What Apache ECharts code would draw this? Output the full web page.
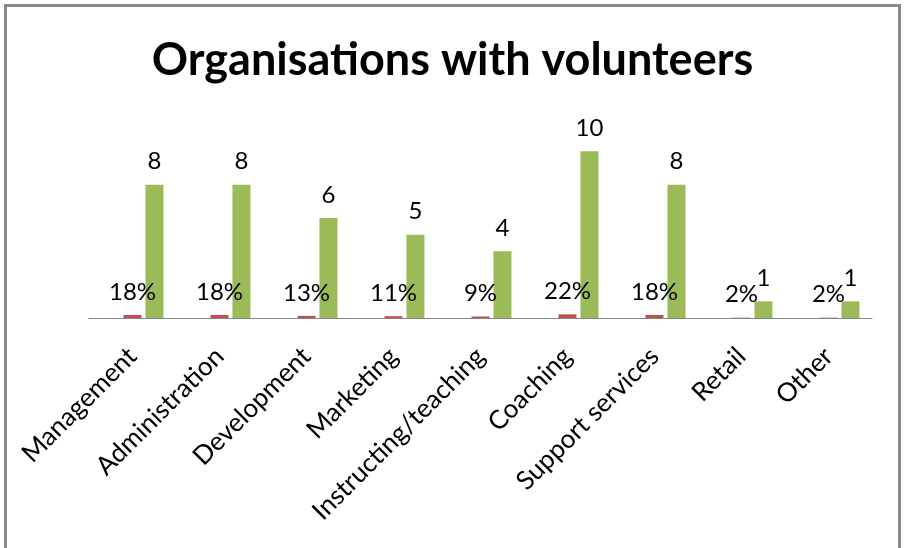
<!DOCTYPE html>
<html>
<head>
<meta charset="utf-8">
<script src="https://cdn.jsdelivr.net/npm/echarts@6/dist/echarts.min.js"></script>
<style>
  html, body { margin: 0; padding: 0; background: #fff; }
  #chart { width: 905px; height: 548px; }
</style>
</head>
<body>
<div id="chart"></div>
<script>
// Roles that volunteers take on
const categories = ['Management', 'Administration', 'Development', 'Marketing',
  'Instructing/teaching', 'Coaching', 'Support services', 'Retail', 'Other'];
// Share of organisations (fraction) and number of organisations per role
const shareValues = [0.18, 0.18, 0.13, 0.11, 0.09, 0.22, 0.18, 0.02, 0.02];
const countValues = [8, 8, 6, 5, 4, 10, 8, 1, 1];
// Unused first series slot (keeps the grouped-bar spacing)
const emptyValues = categories.map(() => null);

const FONT = 'Lato';
const chart = echarts.init(document.getElementById('chart'), null, { renderer: 'canvas' });

const labelStyle = { show: true, position: 'top', distance: 11, color: '#000', fontFamily: FONT, fontSize: 24 };

chart.setOption({
  animation: false,
  backgroundColor: '#fff',
  title: {
    text: 'Organisations with volunteers',
    left: 'center',
    top: 33,
    textStyle: { fontFamily: FONT, fontWeight: 'bold', fontSize: 45, color: '#000' }
  },
  graphic: [{
    type: 'rect',
    shape: { x: 5.5, y: 5.5, width: 894, height: 600 },
    style: { fill: 'none', stroke: '#8a8a8a', lineWidth: 3 },
    silent: true
  }],
  grid: { left: 89, right: 33, top: 118, bottom: 230 },
  xAxis: {
    type: 'category',
    data: categories,
    axisLine: { lineStyle: { color: '#868686', width: 1 } },
    axisTick: { show: false },
    axisLabel: { rotate: 45, interval: 0, margin: 34, color: '#000', fontFamily: FONT, fontSize: 26 }
  },
  yAxis: {
    type: 'value', min: 0, max: 12, interval: 2,
    show: false,
    splitLine: { show: false }
  },
  series: [
    { type: 'bar', name: 'blank', data: emptyValues, barWidth: 18, barGap: '22%',
      itemStyle: { color: '#4f81bd' } },
    { type: 'bar', name: 'share', data: shareValues, barWidth: 18, barGap: '22%',
      itemStyle: { color: '#c0504d' },
      label: Object.assign({}, labelStyle, { formatter: p => Math.round(p.value * 100) + '%' }) },
    { type: 'bar', name: 'count', data: countValues, barWidth: 18, barGap: '22%',
      itemStyle: { color: '#9bbb59' },
      label: labelStyle }
  ]
});
</script>
</body>
</html>
